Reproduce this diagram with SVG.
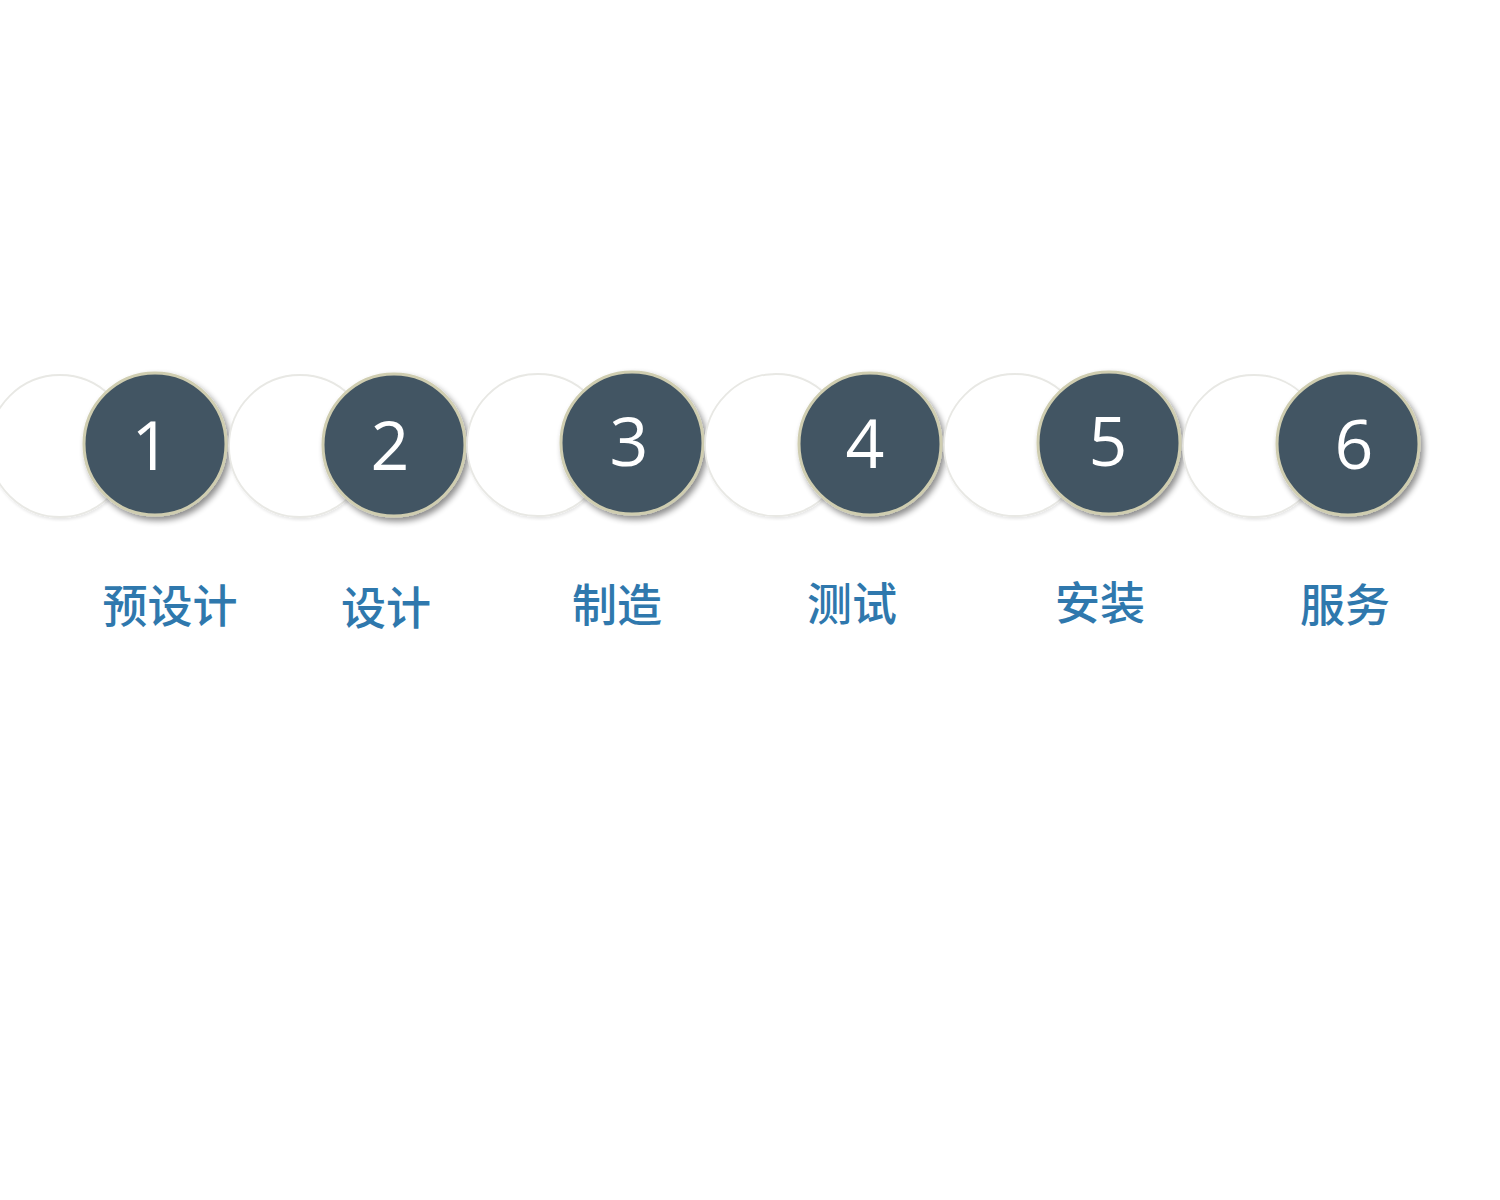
<svg xmlns="http://www.w3.org/2000/svg" width="1500" height="1200" viewBox="0 0 1500 1200">
<defs>
<filter id="sh" x="-30%" y="-30%" width="160%" height="160%">
<feGaussianBlur in="SourceAlpha" stdDeviation="3"/>
<feOffset dx="3" dy="4" result="b"/>
<feComponentTransfer><feFuncA type="linear" slope="0.45"/></feComponentTransfer>
<feMerge><feMergeNode/><feMergeNode in="SourceGraphic"/></feMerge>
</filter>
<filter id="ls" x="-20%" y="-20%" width="140%" height="140%">
<feGaussianBlur in="SourceAlpha" stdDeviation="1.5"/>
<feOffset dx="1" dy="2"/>
<feComponentTransfer><feFuncA type="linear" slope="0.1"/></feComponentTransfer>
<feMerge><feMergeNode/><feMergeNode in="SourceGraphic"/></feMerge>
</filter>
</defs>
<style>
.light{fill:#ffffff;stroke:#e8e8e4;stroke-width:1.8}
.dark{fill:#435563;stroke:#cfcdb0;stroke-width:3}
.num{font-family:"Open Sans","DejaVu Sans",sans-serif;font-size:68px;fill:#ffffff;text-anchor:middle}
.lbl{font-family:"Noto Sans CJK SC","Noto Sans",sans-serif;font-size:45px;font-weight:500;fill:#2f78ad;text-anchor:middle}
</style>
<rect width="1500" height="1200" fill="#ffffff"/>
<g id="connectors"></g>
<g id="step1">
<circle class="light" cx="60" cy="446" r="71" filter="url(#ls)"/>
<circle class="dark" cx="155" cy="444" r="71" filter="url(#sh)"/>
<text class="num" x="151" y="470">1</text>
<text class="lbl" x="170" y="623">预设计</text>
</g>
<g id="step2">
<circle class="light" cx="300" cy="446" r="71" filter="url(#ls)"/>
<circle class="dark" cx="394" cy="445" r="71" filter="url(#sh)"/>
<text class="num" x="390" y="470">2</text>
<text class="lbl" x="386" y="625">设计</text>
</g>
<g id="step3">
<circle class="light" cx="538" cy="445" r="71" filter="url(#ls)"/>
<circle class="dark" cx="632" cy="443" r="71" filter="url(#sh)"/>
<text class="num" x="629" y="466">3</text>
<text class="lbl" x="617" y="622">制造</text>
</g>
<g id="step4">
<circle class="light" cx="776" cy="445" r="71" filter="url(#ls)"/>
<circle class="dark" cx="870" cy="444" r="71" filter="url(#sh)"/>
<text class="num" x="865" y="468">4</text>
<text class="lbl" x="852" y="621">测试</text>
</g>
<g id="step5">
<circle class="light" cx="1015" cy="445" r="71" filter="url(#ls)"/>
<circle class="dark" cx="1109" cy="443" r="71" filter="url(#sh)"/>
<text class="num" x="1108" y="466">5</text>
<text class="lbl" x="1100" y="620">安装</text>
</g>
<g id="step6">
<circle class="light" cx="1254" cy="446" r="71" filter="url(#ls)"/>
<circle class="dark" cx="1348" cy="444" r="71" filter="url(#sh)"/>
<text class="num" x="1354" y="469">6</text>
<text class="lbl" x="1345" y="622">服务</text>
</g>
</svg>
